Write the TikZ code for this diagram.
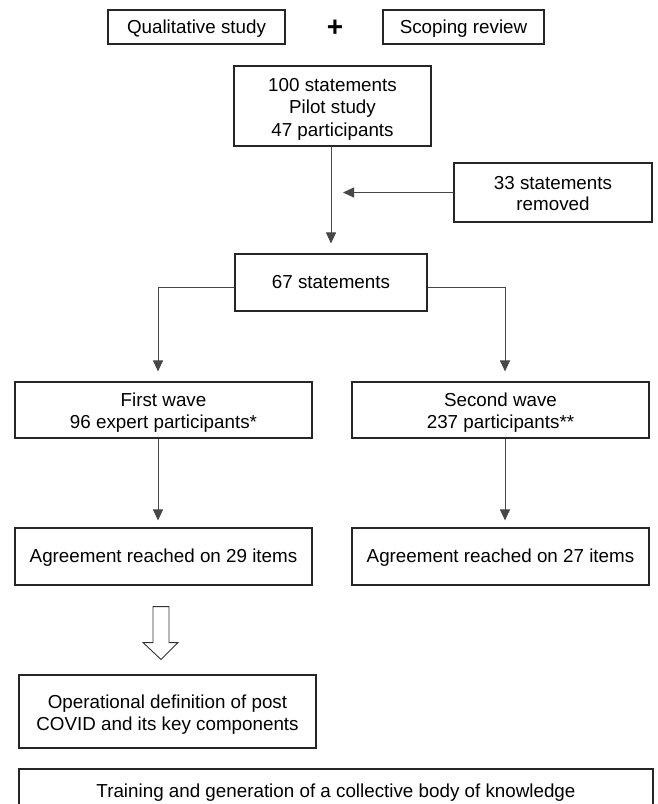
\documentclass[tikz,border=0pt]{standalone}
\usepackage{fontspec}
\setmainfont{Liberation Sans}
\usetikzlibrary{arrows.meta,calc}
\newcommand\mytopstrut{\rule{0pt}{19pt}}
\newcommand\mybotstrut{\rule[-4pt]{0pt}{4pt}}
\begin{document}
\begin{tikzpicture}[x=1pt,y=-1pt,
  box/.style={draw=black!85, line width=1.1pt, fill=white, rectangle, inner sep=0pt, align=center,
    font=\fontsize{18.8}{22.5}\selectfont,
    execute at begin node={\rule{0pt}{16pt}},
    execute at end node={\rule[-4pt]{0pt}{4pt}}},
  conn/.style={draw=black!72, line width=1pt},
  arr/.style={conn, -{Triangle[width=10pt,length=11pt]}},
]
\useasboundingbox (0,0) rectangle (657,804);
\node[box, minimum width=177pt, minimum height=34pt] (qual) at (196.5,27) {Qualitative study};
\node[inner sep=0pt, font=\fontsize{28}{28}\selectfont\bfseries] (plus) at (335,28) {+};
\node[box, minimum width=161pt, minimum height=34pt] (scop) at (463.5,27) {Scoping review};
\node[box, minimum width=197pt, minimum height=80pt] (pilot) at (332.5,106) {\mytopstrut 100 statements\\Pilot study\\47 participants\mybotstrut};
\node[box, minimum width=198pt, minimum height=59pt, font=\fontsize{18.8}{20.5}\selectfont] (removed) at (553,192.5) {\mytopstrut 33 statements\\removed\mybotstrut};
\node[box, minimum width=192pt, minimum height=57pt] (s67) at (331,282.5) {67 statements};
\node[box, minimum width=297pt, minimum height=56pt] (fw) at (163.5,410) {\mytopstrut First wave\\96 expert participants*\mybotstrut};
\node[box, minimum width=297pt, minimum height=56pt] (sw) at (500.5,410) {\mytopstrut Second wave\\237 participants**\mybotstrut};
\node[box, minimum width=297pt, minimum height=57pt] (ag1) at (163.5,556.5) {Agreement reached on 29 items};
\node[box, minimum width=297pt, minimum height=57pt] (ag2) at (500.5,556.5) {Agreement reached on 27 items};
\node[box, minimum width=297pt, minimum height=73pt, font=\fontsize{18.8}{22}\selectfont] (opdef) at (167.5,711.5) {\mytopstrut Operational definition of post\\COVID and its key components\mybotstrut};
\node[box, minimum width=634pt, minimum height=44pt] (train) at (336,791) {Training and generation of a collective body of knowledge};

% connectors
\draw[arr, shorten >=10pt] ([xshift=-1.5pt]pilot.south) -- ([xshift=-1.5pt]pilot.south |- s67.north);
\draw[arr, shorten >=12pt] (removed.west) -- (removed.west -| s67.north);
\draw[arr, shorten >=10pt] ([yshift=-4.5pt]s67.west) -| ([xshift=-5.5pt]fw.north);
\draw[arr, shorten >=10pt] ([yshift=-4.5pt]s67.east) -| ([xshift=4.5pt]sw.north);
\draw[arr, shorten >=7pt] ([xshift=-5.5pt]fw.south) -- ([xshift=-5.5pt]ag1.north);
\draw[arr, shorten >=7pt] ([xshift=4.5pt]sw.south) -- ([xshift=4.5pt]ag2.north);

% hollow arrow
\coordinate (ha) at ($(ag1.south)+(-2.5,21)$);
\coordinate (hb) at ($(opdef.north)+(-6.5,-15)$);
\draw[draw=black!80, line width=0.9pt, line join=miter, fill=white]
  ($(ha)+(-8,0)$) -- ($(ha)+(8,0)$) -- ($(ha)+(8,36)$) -- ($(ha)+(17,36)$) -- (hb)
  -- ($(ha)+(-18,36)$) -- ($(ha)+(-8,36)$) -- cycle;
\end{tikzpicture}
\end{document}
